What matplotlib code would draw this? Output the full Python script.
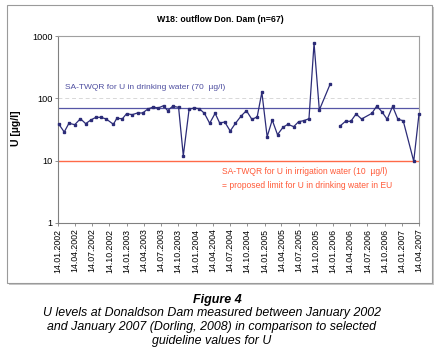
import matplotlib
matplotlib.use("Agg")
import matplotlib.pyplot as plt
from matplotlib.patches import Rectangle
from matplotlib.ticker import NullLocator
import numpy as np
import pandas as pd

plt.rcParams['font.family'] = ['Liberation Sans', 'DejaVu Sans']

# U levels at W18 (outflow Donaldson Dam)
sample_dates = [
    '2002-01-18', '2002-02-16', '2002-03-13', '2002-04-13', '2002-05-13', '2002-06-10',
    '2002-07-07', '2002-08-03', '2002-08-30', '2002-09-27', '2002-11-04', '2002-11-22',
    '2002-12-22', '2003-01-13', '2003-02-12', '2003-03-12', '2003-04-08', '2003-05-06',
    '2003-06-04', '2003-06-30', '2003-07-28', '2003-08-19', '2003-09-14', '2003-10-16',
    '2003-11-10', '2003-12-11', '2004-01-08', '2004-02-03', '2004-03-01', '2004-03-29',
    '2004-04-27', '2004-05-21', '2004-06-17', '2004-07-16', '2004-08-13', '2004-09-12',
    '2004-10-10', '2004-11-08', '2004-12-06', '2004-12-31', '2005-01-28', '2005-02-24',
    '2005-03-24', '2005-04-22', '2005-05-18', '2005-06-18', '2005-07-14', '2005-08-10',
    '2005-09-07', '2005-10-04', '2005-11-01', '2005-12-28', '2006-01-23', '2006-02-19',
    '2006-03-20', '2006-04-17', '2006-05-15', '2006-06-13', '2006-08-07', '2006-09-02',
    '2006-09-30', '2006-10-27', '2006-11-25', '2006-12-23', '2007-01-20', '2007-03-17',
    '2007-04-14',
]
u_values = [
    38.7, 28.8, 39.8, 37.8, 47.1, 39.2,
    44.9, 49.6, 49.6, 46.6, 38.3, 47.8,
    47.1, 56.7, 54.7, 58.2, 58.2, 67.4,
    72.6, 70.0, 76.2, 63.4, 74.5, 71.8,
    12.0, 67.4, 70.0, 68.2, 57.5, 39.8,
    57.5, 40.2, 41.7, 29.9, 39.8, 52.1,
    63.4, 46.1, 50.2, 125.0, 24.2, 44.9,
    26.1, 34.3, 38.3, 35.1, 42.2, 43.8,
    47.1, 764.0, 65.0, 168.0, np.nan, 36.0,
    42.8, 42.8, 56.1, 46.6, 57.5, 75.4,
    60.4, 46.1, 74.5, 46.1, 43.8, 9.8,
    56.1,
]
tick_labels = [
    '14.01.2002', '14.04.2002', '14.07.2002', '14.10.2002',
    '14.01.2003', '14.04.2003', '14.07.2003', '14.10.2003',
    '14.01.2004', '14.04.2004', '14.07.2004', '14.10.2004',
    '14.01.2005', '14.04.2005', '14.07.2005', '14.10.2005',
    '14.01.2006', '14.04.2006', '14.07.2006', '14.10.2006',
    '14.01.2007', '14.04.2007',
]
drinking_limit = 70
irrigation_limit = 10

dates = pd.to_datetime(sample_dates)
tick_dates = pd.to_datetime(tick_labels, format='%d.%m.%Y')

W, H = 439, 354
fig = plt.figure(figsize=(W / 100, H / 100), dpi=100)

# chart frame with a small drop shadow
fig.patches.append(Rectangle((9 / W, 1 - 285 / H), 425 / W, 278 / H,
                             transform=fig.transFigure, facecolor='#c8c8c8',
                             edgecolor='none', zorder=-2))
fig.patches.append(Rectangle((7 / W, 1 - 283 / H), 425 / W, 278 / H,
                             transform=fig.transFigure, facecolor='white',
                             edgecolor='#9a9a9a', lw=0.8, zorder=-1))

ax = fig.add_axes([58 / W, 1 - 223 / H, (419 - 58) / W, (223 - 36) / H])
ax.set_zorder(2)
ax.set_yscale('log')
ax.set_ylim(1, 1000)
ax.set_xlim(tick_dates[0], tick_dates[-1])

ax.grid(axis='y', which='major', color='#d8d8d8', lw=0.7, ls=(0, (4, 3)))
ax.set_axisbelow(True)

ax.axhline(drinking_limit, color='#5656a6', lw=0.9, zorder=2)
ax.axhline(irrigation_limit, color='#ff6a48', lw=1.0, zorder=2)
ax.plot(dates, u_values, color='#2c2c78', lw=0.9, marker='s', ms=1.8,
        zorder=3, clip_on=False)

ax.text(0.02, 0.722, 'SA-TWQR for U in drinking water (70  µg/l)',
        transform=ax.transAxes, color='#4e4ea0', fontsize=6.0, va='center')
ax.text(0.454, 0.273, 'SA-TWQR for U in irrigation water (10  µg/l)',
        transform=ax.transAxes, color='#ff5a38', fontsize=6.15, va='center')
ax.text(0.454, 0.198, '= proposed limit for U in drinking water in EU',
        transform=ax.transAxes, color='#ff5a38', fontsize=6.15, va='center')

ax.set_yticks([1, 10, 100, 1000])
ax.set_yticklabels(['1', '10', '100', '1000'], fontsize=6.6)
ax.yaxis.set_minor_locator(NullLocator())
ax.set_xticks(tick_dates)
ax.set_xticklabels(tick_labels, rotation=90, fontsize=6.3)
ax.tick_params(length=2.5, width=0.6, color='#808080', pad=1.5)

for s in ax.spines.values():
    s.set_color('#a0a0a0')
    s.set_linewidth(0.8)
ax.spines['left'].set_color('#808080')
ax.spines['bottom'].set_color('#808080')

fig.text(220 / W, 1 - 20 / H, 'W18: outflow Don. Dam (n=67)', ha='center',
         va='center', fontsize=6.3, fontweight='bold')
fig.text(16 / W, 1 - 128 / H, 'U [µg/l]', rotation=90, ha='center',
         va='center', fontsize=7.6, fontweight='bold')

fig.text(217 / W, 1 - 300 / H, 'Figure 4', ha='center', va='center',
         fontsize=9, fontweight='bold', fontstyle='italic')
fig.text(212 / W, 1 - 327 / H,
         'U levels at Donaldson Dam measured between January 2002\n'
         'and January 2007 (Dorling, 2008) in comparison to selected\n'
         'guideline values for U',
         ha='center', va='center', fontsize=8.9, fontstyle='italic',
         linespacing=1.2)

fig.savefig('out.png', dpi=100)
